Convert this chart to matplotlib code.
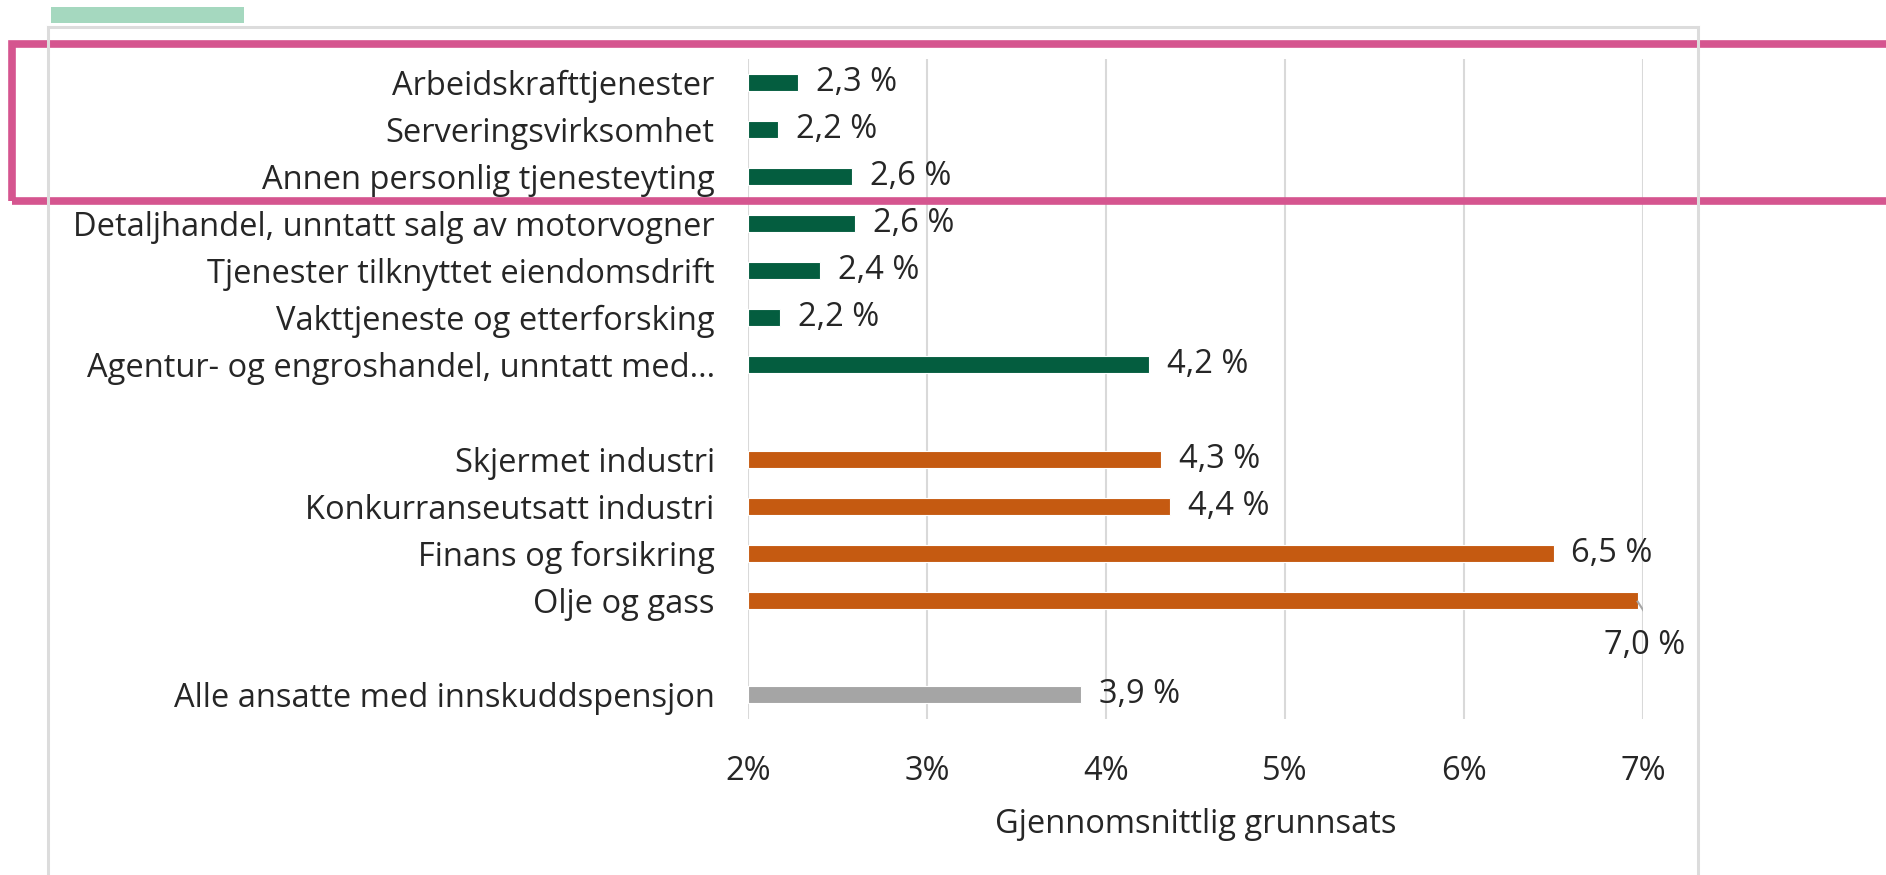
import matplotlib.pyplot as plt
from matplotlib.patches import Rectangle
from matplotlib.lines import Line2D

plt.rcParams['font.family'] = ['Open Sans', 'DejaVu Sans']

# Categories from top to bottom ('' = empty gap row)
categories = ['Arbeidskrafttjenester', 'Serveringsvirksomhet', 'Annen personlig tjenesteyting',
              'Detaljhandel, unntatt salg av motorvogner', 'Tjenester tilknyttet eiendomsdrift',
              'Vakttjeneste og etterforsking', 'Agentur- og engroshandel, unntatt med...', '',
              'Skjermet industri', 'Konkurranseutsatt industri', 'Finans og forsikring', 'Olje og gass', '',
              'Alle ansatte med innskuddspensjon']
values = [2.28, 2.17, 2.58, 2.6, 2.4, 2.18, 4.24, None,
          4.31, 4.36, 6.5, 6.97, None, 3.86]
groups = ['g', 'g', 'g', 'g', 'g', 'g', 'g', None, 'o', 'o', 'o', 'o', None, 'a']
colors = {'g': '#045d3f', 'o': '#c55a11', 'a': '#a5a5a5'}
xticks = [2, 3, 4, 5, 6, 7]

fs = 23.5
tc = '#262626'

fig = plt.figure(figsize=(18.86, 8.75), dpi=100)
ax_top, ax_bot = 58.5, 718.5
ax = fig.add_axes([748/1886, 1-ax_bot/875, 895/1886, (ax_bot-ax_top)/875])

base = 2
for i, (v, g) in enumerate(zip(values, groups)):
    if v is None:
        continue
    ax.barh(i, v - base, left=base, height=0.36, color=colors[g], edgecolor='white', linewidth=0.8, zorder=3)
    lab = f"{v:.1f}".replace('.', ',') + ' %'
    if categories[i] == 'Olje og gass':
        # label pushed below the bar with a small leader line
        ax.plot([v, v + 0.065], [i + 0.02, i + 0.4], color='#a6a6a6', lw=1.5, zorder=4)
        ax.text(v + 0.04, i + 0.95, lab, ha='center', va='center', fontsize=fs, color=tc)
    else:
        ax.text(v + 0.1, i, lab, ha='left', va='center', fontsize=fs, color=tc)

ax.set_ylim(len(categories) - 0.5, -0.5)
ax.set_yticks(range(len(categories)))
ax.set_yticklabels(categories, fontsize=fs, color=tc)
ax.set_xlim(2, 7)
ax.set_xticks(xticks)
ax.set_xticklabels([f"{t}%" for t in xticks], fontsize=fs, color=tc)
ax.tick_params(length=0)
ax.tick_params(axis='y', pad=24)
ax.tick_params(axis='x', pad=26)
ax.grid(axis='x', color='#d9d9d9', lw=1.5, zorder=0)
for s in ax.spines.values():
    s.set_visible(False)
ax.set_xlabel('Gjennomsnittlig grunnsats', fontsize=fs, color=tc)
ax.xaxis.set_label_coords(0.5, -(808-ax_bot)/(ax_bot-ax_top), transform=ax.transAxes)

# chart frame and decorations
fw, fh = 1886, 875
for xs, ys in [([48, 48], [875, 27]), ([48, 1698], [27, 27]), ([1698, 1698], [27, 875])]:
    fig.add_artist(Line2D([x/fw for x in xs], [1 - y/fh for y in ys], color='#dcdcdc', lw=2.2))
fig.add_artist(Rectangle((51/fw, 1-23/fh), 193/fw, 16/fh, color='#a5d8bf', lw=0))
fig.add_artist(Rectangle((11.5/fw, 1-201/fh), 1900/fw, 157/fh, fill=False, edgecolor='#d5558f', lw=5.5))

fig.savefig('out.png', dpi=100)
